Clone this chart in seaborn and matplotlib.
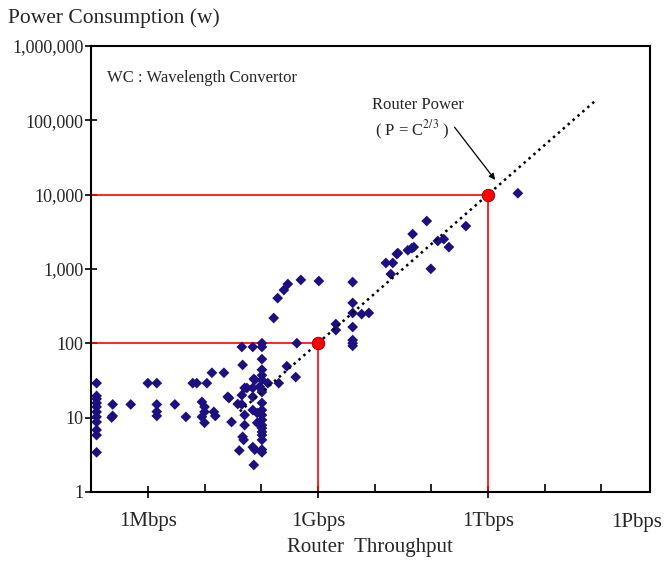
import numpy as np
import pandas as pd
import matplotlib
matplotlib.use("Agg")
import matplotlib.pyplot as plt
import matplotlib.ticker as mticker
import seaborn as sns

# router survey: throughput (Mbps) vs power (W)
throughput_mbps = [
    0.125, 0.125, 0.125, 0.125, 0.125, 0.125, 0.125, 0.125, 0.125, 0.125, 0.125,
    0.24, 0.24, 0.23, 0.5, 1.0, 1.44, 1.44, 1.44, 1.44, 3.0, 4.7, 6.2, 7.3, 11,
    13.5, 22, 9.0, 10, 10, 9.0, 10, 14.6, 15.5, 25.7, 27, 30, 38.6,
    45.5, 45.5, 45.5, 47, 47, 49, 51, 51, 51, 41, 56,
    71, 71, 71, 71, 71, 74, 74, 77, 77, 85, 85, 94,
    103, 103, 103, 103, 103, 103, 103, 103, 103, 103, 103, 103, 103, 103, 103,
    103, 103, 103, 103,
    131, 204, 283, 406, 425, 166, 195, 251, 295, 500, 1040,
    4100, 4100, 4100, 4100, 4100, 4100, 4100, 2070, 2070, 5900, 7900,
    15800, 20900, 19300, 24600, 25700, 38500, 45300, 49000, 46800, 83000,
    130000, 166000, 204000, 98000, 407000, 3.36e6,
]
power_w = [
    29, 19.5, 17.8, 15.7, 13.9, 11.9, 10.2, 8.7, 6.8, 5.8, 3.4,
    15, 10.5, 10, 15, 29, 29, 15, 12, 10.5, 15, 10.2, 29, 29, 29,
    40, 40, 16.2, 13.9, 11.9, 10.2, 8.5, 11.9, 10.5, 19, 18.3, 8.7, 15.2,
    89, 20, 15, 51, 5.5, 5.0, 25, 10.8, 7.9, 3.6, 25,
    89, 25, 19, 12.6, 4.0, 33, 2.3, 32, 3.7, 11.5, 8.5, 26,
    100, 89, 61, 44, 37, 32, 23.5, 22, 15.7, 12.6, 10.8, 9.3, 7.9, 7.2, 6.4,
    5.8, 5.0, 3.7, 3.4,
    29, 29, 49, 35, 100, 218, 404, 519, 625, 710, 686,
    664, 348, 255, 165, 110, 100, 92, 181, 150, 246, 255,
    1200, 1200, 850, 1580, 1630, 1780, 1900, 1960, 2940, 4400,
    2370, 2510, 1960, 1000, 3760, 10400,
]

# highlighted operating points (1 Gbps -> 100 W, 1 Tbps -> 10 kW)
mark_mbps = [1e3, 1e6]
mark_w = [100, 1e4]

# router power trend P ~ C^(2/3), drawn between these throughputs
trend_mbps = np.array([42, 8e7])
trend_w = 100 * (trend_mbps / 1e3) ** (2 / 3)

tick_pos = [1, 1e3, 1e6]
tick_labels = ["1Mbps", "1Gbps", "1Tbps"]
ytick_pos = [1, 10, 100, 1e3, 1e4, 1e5, 1e6]
ytick_labels = ["1", "10", "100", "1,000", "10,000", "100,000", "1,000,000"]

df = pd.DataFrame({"thr": throughput_mbps, "power": power_w})

sns.set_theme(style="white")
plt.rcParams["font.family"] = ["Liberation Serif", "DejaVu Serif"]
plt.rcParams["mathtext.fontset"] = "stix"

fig = plt.figure(figsize=(6.65, 5.66), dpi=100)
ax = fig.add_axes([0.137, 0.131, 0.840, 0.788])

sns.scatterplot(data=df, x="thr", y="power", marker="D", s=30,
                color="#1c0f80", edgecolor="none", ax=ax, zorder=3)

ax.set_xscale("log")
ax.set_yscale("log")
ax.set_xlim(0.1, 7.1e8)
ax.set_ylim(1, 1e6)

# red guide lines to the two reference points
for mx, my in zip(mark_mbps, mark_w):
    ax.plot([0.1, mx], [my, my], color="red", lw=1.2, zorder=2)
    ax.plot([mx, mx], [1, my], color="red", lw=1.2, zorder=2)

sns.lineplot(x=trend_mbps, y=trend_w, color="black", lw=1.8,
             linestyle=(0, (1, 1.6)), ax=ax, zorder=4)

ax.plot(mark_mbps, mark_w, "o", color="red", markeredgecolor="#8b0000",
        markeredgewidth=0.6, markersize=9, zorder=5)

ax.xaxis.set_major_locator(mticker.FixedLocator(tick_pos))
ax.xaxis.set_minor_locator(mticker.FixedLocator([10, 100, 1e4, 1e5, 1e7, 1e8]))
ax.xaxis.set_minor_formatter(mticker.NullFormatter())
ax.set_xticklabels(tick_labels, fontsize=15)
ax.yaxis.set_major_locator(mticker.FixedLocator(ytick_pos))
ax.yaxis.set_minor_locator(mticker.NullLocator())
ax.set_yticklabels(ytick_labels, fontsize=13)
ax.tick_params(axis="x", which="major", direction="inout", length=9, width=1.2,
               pad=10, color="black", bottom=True)
ax.tick_params(axis="x", which="minor", direction="in", length=6, width=1.2,
               color="black", bottom=True)
ax.tick_params(axis="y", which="major", direction="inout", length=8, width=1.2,
               pad=1.5, color="black", left=True)

ax.text(4.2e8, -0.047, "1Pbps", transform=ax.get_xaxis_transform(),
        ha="center", va="top", fontsize=15)

for sp in ax.spines.values():
    sp.set_color("black")
    sp.set_linewidth(1.5)

ax.set_xlabel("Router  Throughput", fontsize=15, labelpad=5)
ax.set_ylabel("")
fig.text(0.012, 0.968, "Power Consumption (w)", fontsize=15.5, ha="left", va="center")

ax.text(0.029, 0.928, "WC : Wavelength Convertor", transform=ax.transAxes,
        fontsize=12, ha="left", va="center")

ax.text(5.8e4, 1.6e5, "Router Power", fontsize=12, ha="center", va="center")
ax.text(1.0e4, 7.3e4, "( P = C$^{2/3}$ )", fontsize=12, ha="left", va="center")
ax.annotate("", xy=(1.43e6, 1.47e4), xytext=(2.4e5, 8.6e4),
            arrowprops=dict(arrowstyle="-|>", color="black", lw=0.9,
                            mutation_scale=9))

fig.savefig("out.png", dpi=100)
